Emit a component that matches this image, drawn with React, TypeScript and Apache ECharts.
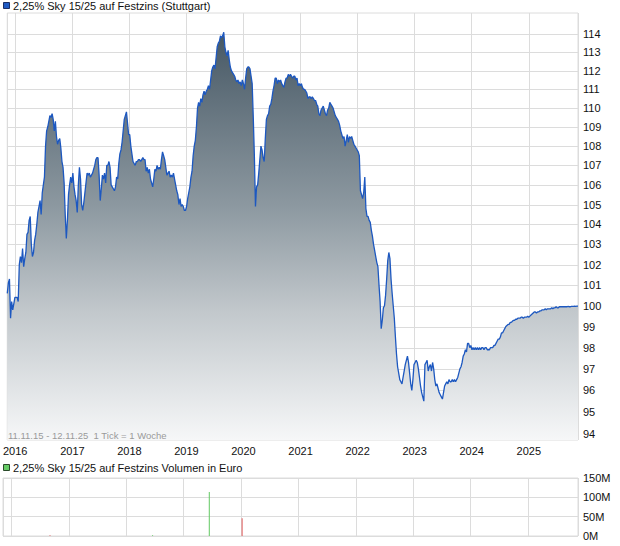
import { useEffect, useRef } from 'react';
import * as echarts from 'echarts';

const FONT = '"Liberation Sans", Arial, Helvetica, sans-serif';
const TITLE_PRICE = '2,25% Sky 15/25 auf Festzins (Stuttgart)';
const TITLE_VOLUME = '2,25% Sky 15/25 auf Festzins Volumen in Euro';
const RANGE_NOTE = '11.11.15 - 12.11.25  1 Tick = 1 Woche';

const START = Date.UTC(2015, 10, 11);
const END = Date.UTC(2025, 10, 12);
const WEEK = 7 * 86400000;

// weekly closing prices (one tick = one week)
const prices: number[] = [
  100.6, 101.1, 101.3, 99.4, 100.2, 99.8, 100.1, 100.4, 100.4, 100.4,
  100.2, 102.0, 102.4, 102.1, 102.8, 101.9, 102.3, 102.6, 103.5, 103.6,
  104.2, 104.4, 103.0, 102.4, 102.6, 103.2, 103.5, 104.0, 104.6, 104.9,
  105.2, 104.5, 105.6, 106.0, 106.4, 108.0, 108.8, 109.0, 109.3, 109.6,
  109.5, 109.7, 109.4, 108.8, 109.3, 108.5, 108.1, 108.3, 108.4, 107.9,
  107.2, 106.9, 106.1, 104.5, 103.3, 104.2, 105.5, 106.0, 106.4, 106.1,
  106.6, 105.9, 105.5, 105.2, 104.6, 106.0, 106.9, 106.3, 105.0, 104.7,
  105.1, 105.6, 106.1, 106.6, 106.5, 106.6, 106.4, 106.5, 106.6, 106.8,
  107.0, 107.3, 107.4, 107.4, 106.5, 105.2, 105.8, 106.5, 106.3, 106.6,
  106.1, 107.0, 107.0, 107.2, 106.9, 106.0, 105.9, 105.8, 105.7, 105.9,
  106.4, 106.3, 107.1, 107.6, 107.8, 108.2, 108.8, 109.4, 109.6, 109.8,
  109.2, 108.6, 108.6, 108.0, 107.6, 107.2, 107.1, 107.0, 107.2, 107.2,
  107.3, 107.3, 107.2, 107.3, 107.4, 107.3, 107.3, 106.7, 106.9, 106.6,
  106.8, 106.3, 106.1, 105.9, 106.3, 106.8, 106.7, 107.0, 106.8, 106.9,
  106.8, 107.3, 107.7, 107.5, 107.3, 106.9, 106.5, 106.6, 106.7, 106.4,
  106.5, 106.4, 106.6, 106.3, 106.0, 105.7, 105.5, 105.0, 105.3, 104.9,
  105.0, 104.9, 104.7, 104.7, 104.9, 105.3, 105.6, 105.9, 106.4, 106.7,
  107.5, 108.0, 108.3, 109.0, 110.0, 110.3, 110.1, 110.5, 110.3, 110.7,
  110.9, 110.7, 110.9, 111.0, 111.2, 111.0, 111.5, 112.0, 112.2, 112.3,
  112.1, 112.7, 113.3, 113.5, 113.6, 113.9, 113.8, 113.9, 114.1, 113.3,
  113.0, 112.8, 113.1, 112.6, 112.2, 112.0, 111.9, 111.8, 111.7, 111.5,
  111.4, 111.5, 111.3, 111.4, 111.2, 111.5, 111.3, 111.0, 111.6, 112.1,
  112.2, 112.2, 112.1, 111.7, 111.3, 109.5, 107.5, 104.9, 105.9, 106.0,
  106.6, 107.3, 108.0, 107.8, 107.4, 107.2, 108.4, 109.4, 109.6, 109.7,
  110.1, 110.2, 110.5, 110.9, 111.2, 111.6, 111.6, 111.3, 111.5, 111.4,
  111.5, 111.3, 111.2, 111.1, 111.4, 111.6, 111.6, 111.8, 111.7, 111.8,
  111.7, 111.6, 111.7, 111.7, 111.5, 111.6, 111.2, 111.3, 111.2, 111.3,
  111.1, 111.0, 111.0, 110.9, 110.8, 110.5, 110.6, 110.6, 110.5, 110.6,
  110.5, 110.4, 110.4, 110.2, 110.1, 109.7, 109.6, 109.9, 110.0, 110.1,
  109.9, 109.7, 109.6, 109.9, 110.0, 110.3, 110.2, 110.1, 110.0, 109.8,
  109.6, 109.5, 109.4, 109.3, 109.1, 108.8, 108.6, 108.4, 108.5, 108.0,
  108.3, 108.6, 108.2, 108.5, 108.4, 108.5, 108.3, 108.1, 108.0, 107.9,
  107.8, 107.7, 107.5, 105.7, 105.5, 105.3, 105.6, 106.4, 104.8, 104.4,
  104.4, 104.2, 104.1, 103.7, 103.4, 103.0, 102.7, 102.4, 102.1, 101.9,
  101.0, 100.2, 98.9, 99.3, 99.9, 100.0, 100.5, 101.3, 102.2, 102.6,
  102.3, 101.3, 100.6, 100.0, 99.4, 98.5, 97.7, 97.1, 96.8, 96.5,
  96.4, 96.3, 96.6, 96.9, 97.2, 97.4, 97.6, 97.3, 96.8, 96.3,
  96.0, 96.5, 97.2, 97.3, 97.4, 97.3, 97.0, 96.6, 96.2, 95.9,
  95.7, 95.5, 97.2, 97.3, 97.4, 96.9, 97.1, 97.2, 96.9, 97.3,
  97.0, 96.5, 96.2, 96.3, 96.1, 95.9, 95.8, 95.7, 95.6, 95.9,
  96.2, 96.3, 96.4, 96.3, 96.5, 96.4, 96.4, 96.5, 96.4, 96.5,
  96.4, 96.5, 96.6, 96.8, 97.0, 97.1, 97.3, 97.6, 97.7, 97.9,
  97.8, 98.2, 98.2, 98.0, 98.1, 97.9, 98.0, 97.9, 98.0, 97.9,
  98.0, 97.9, 98.0, 97.9, 98.0, 98.0, 97.9, 98.0, 98.0, 97.9,
  97.9, 97.9, 98.0, 98.0, 98.0, 98.1, 98.1, 98.2, 98.3, 98.4,
  98.4, 98.5, 98.7, 98.7, 98.8, 98.9, 99.0, 99.05, 99.1, 99.1,
  99.2, 99.2, 99.25, 99.3, 99.3, 99.35, 99.35, 99.4, 99.4, 99.4,
  99.45, 99.45, 99.4, 99.45, 99.45, 99.45, 99.5, 99.45, 99.5, 99.55,
  99.6, 99.65, 99.7, 99.7, 99.65, 99.7, 99.7, 99.75, 99.75, 99.8,
  99.8, 99.8, 99.85, 99.8, 99.85, 99.85, 99.85, 99.85, 99.9, 99.85,
  99.9, 99.9, 99.95, 99.9, 99.9, 99.95, 99.95, 99.95, 99.95, 99.95,
  99.95, 99.95, 99.95, 99.97, 99.95, 99.95, 99.97, 99.97, 99.97, 99.98,
  99.97, 99.98, 99.98,
];
const weeks: number[] = prices.map((_, i) => START + i * WEEK);

const priceTicks: number[] = [94, 95, 96, 97, 98, 99, 100, 101, 102, 103, 104, 105, 106, 107, 108, 109, 110, 111, 112, 113, 114];
const Y_MIN = 93.73;
const Y_MAX = 115.16;

const volDates: string[] = ['2016-09-02', '2018-06-17', '2019-06-13', '2020-01-08'];
const volValues: number[] = [2e6, 2e6, 114e6, 46e6];
const volColors: string[] = ['#e05a5a', '#62c962', '#62c962', '#e05a5a'];
const volTicks: number[] = [0, 50e6, 100e6, 150e6];

const GRID_COLOR = '#dcdcdc';

export default function App() {
  const ref = useRef<HTMLDivElement>(null);

  useEffect(() => {
    if (!ref.current) return;
    const chart = echarts.init(ref.current, null, { renderer: 'svg' });

    const yearLabel = (v: number) => String(new Date(v).getUTCFullYear());
    const YEAR = 365.25 * 86400000;

    const option: any = {
      animation: false,
      useUTC: true,
      backgroundColor: '#ffffff',
      textStyle: { fontFamily: FONT },
      grid: [
        { left: 3, right: 42, top: 13, bottom: 106, show: true, borderColor: GRID_COLOR, borderWidth: 1, backgroundColor: 'transparent' },
        { left: 3, right: 42, top: 478, bottom: 10, show: true, borderColor: GRID_COLOR, borderWidth: 1, backgroundColor: 'transparent' },
      ],
      xAxis: [
        {
          type: 'time', gridIndex: 0, min: START, max: END,
          minInterval: YEAR, maxInterval: YEAR,
          axisLine: { show: false }, axisTick: { show: false },
          splitLine: { show: true, lineStyle: { color: GRID_COLOR, width: 1 } },
          axisLabel: { formatter: yearLabel, color: '#111', fontSize: 11, fontFamily: FONT, margin: 5, hideOverlap: false },
        },
        {
          type: 'time', gridIndex: 1, min: START, max: END,
          minInterval: YEAR, maxInterval: YEAR,
          axisLine: { show: false }, axisTick: { show: false },
          splitLine: { show: true, lineStyle: { color: GRID_COLOR, width: 1 } },
          axisLabel: { show: false },
        },
      ],
      yAxis: [
        {
          type: 'log', logBase: 10, gridIndex: 0, min: Y_MIN, max: Y_MAX, position: 'right',
          axisLine: { show: false }, axisTick: { show: false },
          splitLine: { show: false }, axisLabel: { show: false },
        },
        {
          type: 'value', gridIndex: 1, min: 0, max: 150e6, interval: 50e6, position: 'right',
          axisLine: { show: false }, axisTick: { show: false },
          splitLine: { show: true, lineStyle: { color: GRID_COLOR, width: 1 } },
          axisLabel: {
            color: '#111', fontSize: 11, fontFamily: FONT, margin: 5,
            formatter: (v: number) => `${Math.round(v / 1e6)}M`,
          },
        },
      ],
      series: [
        {
          type: 'custom',
          name: 'priceGrid',
          xAxisIndex: 0, yAxisIndex: 0,
          z: 1,
          silent: true,
          clip: false,
          encode: { x: 0, y: 1 },
          data: priceTicks.map((v) => [START, v]),
          renderItem: (params: any, api: any) => {
            const v = api.value(1);
            const pt = api.coord([api.value(0), v]);
            const cs = params.coordSys;
            const y = Math.round(pt[1]) + 0.5;
            return {
              type: 'group',
              children: [
                { type: 'line', shape: { x1: cs.x, y1: y, x2: cs.x + cs.width, y2: y }, style: { stroke: GRID_COLOR, lineWidth: 1 } },
                { type: 'text', x: cs.x + cs.width + 5, y: pt[1], style: { text: String(v), fill: '#111', fontSize: 11, fontFamily: FONT, align: 'left', verticalAlign: 'middle' } },
              ],
            };
          },
        },
        {
          type: 'line',
          name: 'price',
          xAxisIndex: 0, yAxisIndex: 0,
          z: 3,
          showSymbol: false,
          symbol: 'none',
          data: weeks.map((t, i) => [t, prices[i]]),
          lineStyle: { color: '#1d58c0', width: 1.3 },
          areaStyle: {
            origin: Y_MIN,
            opacity: 1,
            color: {
              type: 'linear', x: 0, y: 13, x2: 0, y2: 440, global: true,
              colorStops: [
                { offset: 0, color: '#3f515e' },
                { offset: 0.45, color: '#8c98a0' },
                { offset: 0.7, color: '#c2c8cc' },
                { offset: 1, color: '#f6f7f8' },
              ],
            },
          },
        },
        {
          type: 'bar',
          name: 'volume',
          xAxisIndex: 1, yAxisIndex: 1,
          barWidth: 1,
          z: 3,
          data: volDates.map((d, i) => ({ value: [d, volValues[i]], itemStyle: { color: volColors[i] } })),
        },
      ],
      graphic: [
        { type: 'rect', z: 100, shape: { x: 3.5, y: 2.5, width: 6, height: 6 }, style: { fill: '#1f5bc4', stroke: '#1b2f66', lineWidth: 1 } },
        { type: 'text', z: 100, x: 13, y: 6, style: { text: TITLE_PRICE, fill: '#111', fontSize: 11, fontFamily: FONT, verticalAlign: 'middle' } },
        { type: 'rect', z: 100, shape: { x: 3.5, y: 464.5, width: 6, height: 6 }, style: { fill: '#66cc66', stroke: '#2a4a2a', lineWidth: 1 } },
        { type: 'text', z: 100, x: 13, y: 468, style: { text: TITLE_VOLUME, fill: '#111', fontSize: 11, fontFamily: FONT, verticalAlign: 'middle' } },
        { type: 'text', z: 100, x: 8, y: 435, style: { text: RANGE_NOTE, fill: '#9a9a9a', fontSize: 9.5, fontFamily: FONT, verticalAlign: 'middle' } },
      ],
    };

    chart.setOption(option);
    return () => chart.dispose();
  }, []);

  return <div ref={ref} style={{ position: 'fixed', left: 0, top: 0, width: 620, height: 546 }} />;
}
